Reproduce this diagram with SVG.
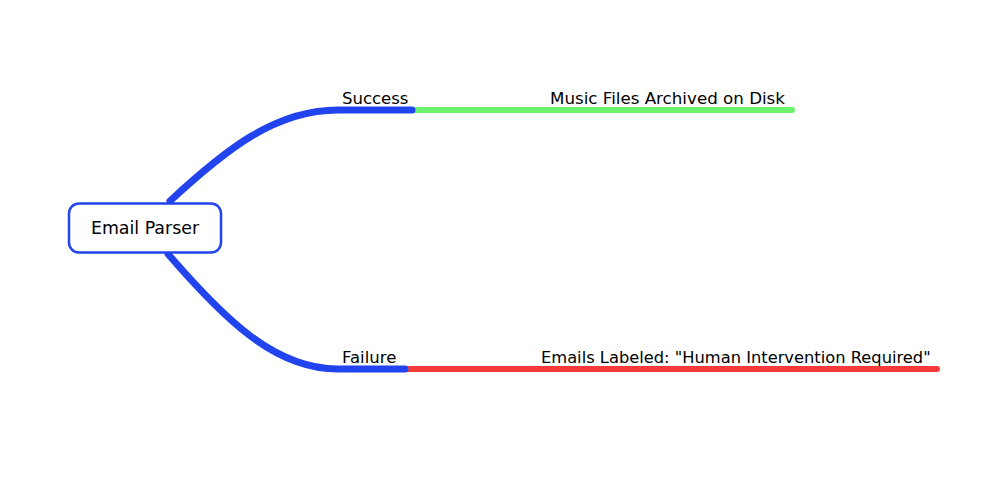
<svg xmlns="http://www.w3.org/2000/svg" width="1006" height="496" viewBox="0 0 1006 496">
<style>
.t{font-family:"DejaVu Sans","Noto Sans",sans-serif;font-size:16.5px;fill:#000}
.n{font-size:17.4px}
.m{font-size:16.7px}
.e{font-size:16.3px}
.b{fill:none;stroke:#2244ee;stroke-width:7;stroke-linecap:round}
.g{fill:none;stroke:#6cf56c;stroke-width:6;stroke-linecap:round}
.r{fill:none;stroke:#f53a3a;stroke-width:6;stroke-linecap:round}
</style>
<rect width="1006" height="496" fill="#fff"/>
<g id="connectors">
<path class="g" d="M412,110 L792,110"/>
<path class="r" d="M405,369 L937,369"/>
<path class="b" d="M170,201 C225,150 275,110 338,110 L412,110"/>
<path class="b" d="M168,254 C225,320 275,369 338,369 L405,369"/>
</g>
<g id="email-parser">
<rect x="69" y="203.5" width="152" height="49" rx="10" fill="#fff" stroke="#2244ee" stroke-width="2.5"/>
<text class="t n" x="145" y="234" text-anchor="middle">Email Parser</text>
</g>
<g id="success">
<text class="t" x="342" y="104">Success</text>
</g>
<g id="failure">
<text class="t" x="342" y="363">Failure</text>
</g>
<g id="music-files">
<text class="t m" x="550" y="104">Music Files Archived on Disk</text>
</g>
<g id="emails-labeled">
<text class="t e" x="541" y="363">Emails Labeled: "Human Intervention Required"</text>
</g>
</svg>
